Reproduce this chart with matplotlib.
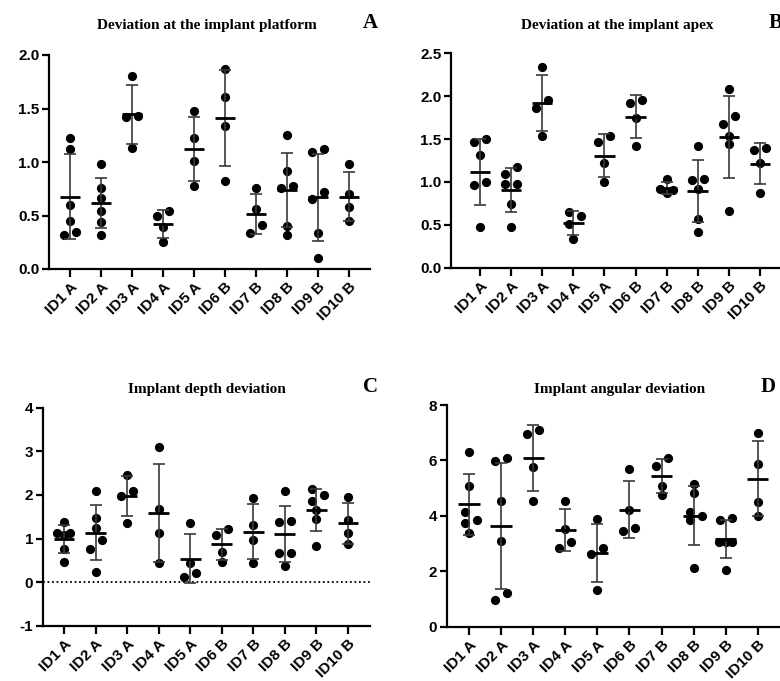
import numpy as np
import matplotlib
matplotlib.use('Agg')
import matplotlib.pyplot as plt

labels = ['ID1 A', 'ID2 A', 'ID3 A', 'ID4 A', 'ID5 A', 'ID6 B', 'ID7 B', 'ID8 B', 'ID9 B', 'ID10 B']

# deviation at the implant platform
platform = [
    [1.22, 1.12, 0.60, 0.45, 0.32, 0.35],
    [0.98, 0.76, 0.66, 0.54, 0.44, 0.32],
    [1.80, 1.43, 1.42, 1.13],
    [0.50, 0.54, 0.39, 0.25],
    [1.48, 1.22, 1.01, 0.78],
    [1.87, 1.61, 1.34, 0.82],
    [0.76, 0.56, 0.41, 0.34],
    [1.25, 0.92, 0.76, 0.78, 0.40, 0.32],
    [1.09, 1.12, 0.65, 0.72, 0.34, 0.10],
    [0.98, 0.70, 0.58, 0.45],
]
# deviation at the implant apex
apex = [
    [1.46, 1.50, 1.31, 1.00, 0.97, 0.48],
    [1.09, 1.17, 0.98, 0.98, 0.74, 0.48],
    [2.34, 1.95, 1.86, 1.54],
    [0.60, 0.65, 0.51, 0.33],
    [1.47, 1.54, 1.22, 1.00],
    [1.92, 1.96, 1.75, 1.42],
    [1.03, 0.87, 0.92, 0.91],
    [1.42, 1.03, 1.02, 0.92, 0.57, 0.42],
    [2.08, 1.77, 1.68, 1.54, 1.44, 0.66],
    [1.37, 1.40, 1.22, 0.87],
]
# implant depth deviation
depth = [
    [1.37, 1.13, 1.12, 1.09, 0.77, 0.47],
    [2.09, 1.46, 1.25, 0.96, 0.77, 0.24],
    [2.45, 2.09, 1.97, 1.35],
    [3.10, 1.67, 1.13, 0.43],
    [1.36, 0.44, 0.12, 0.22],
    [1.09, 1.21, 0.68, 0.47],
    [1.93, 1.32, 0.96, 0.43],
    [2.09, 1.41, 1.37, 0.66, 0.66, 0.38],
    [2.00, 2.13, 1.87, 1.65, 1.44, 0.83],
    [1.96, 1.42, 1.13, 0.87],
]
# implant angular deviation
angular = [
    [6.32, 5.09, 3.85, 4.13, 3.75, 3.37],
    [5.98, 6.08, 4.54, 3.10, 0.96, 1.20],
    [6.96, 7.08, 5.75, 4.54],
    [4.54, 3.53, 2.85, 3.07],
    [3.88, 2.85, 2.61, 1.32],
    [5.68, 4.21, 3.47, 3.55],
    [5.81, 6.08, 5.08, 4.75],
    [5.14, 4.81, 4.15, 3.85, 4.00, 2.11],
    [3.85, 3.94, 3.07, 3.07, 3.07, 2.05],
    [7.00, 5.87, 4.51, 4.00],
]

W, H = 780, 681
serif = ['Liberation Serif', 'DejaVu Serif']
sans = ['Liberation Sans', 'DejaVu Sans']


def swarm(ax, vals, hy=8.3, step=12.0, max_span=13.0):
    # spread points that would overlap: pixel space, returns x offsets in data units
    vals = np.asarray(vals, dtype=float)
    ys = ax.transData.transform(np.column_stack([np.zeros(len(vals)), vals]))[:, 1]
    xunit = ax.transData.transform((1, 0))[0] - ax.transData.transform((0, 0))[0]
    order = np.argsort(ys, kind='stable')
    xs = np.zeros(len(vals))
    done = []
    for i in order:
        near = [j for j in done if abs(ys[i] - ys[j]) < hy]
        cands = [0.0] + [xs[j] + d for j in near for d in (step, -step)]
        cands.sort(key=abs)
        for c in cands:
            if all(abs(c - xs[j]) >= step - 1e-6 for j in near):
                xs[i] = c
                break
        done.append(i)
    # centre every group of points that touch each other, keep it narrow
    group = list(range(len(vals)))
    for i in range(len(vals)):
        for j in range(len(vals)):
            if abs(ys[i] - ys[j]) < hy:
                gi, gj = group[i], group[j]
                group = [gi if g == gj else g for g in group]
    for g in set(group):
        idx = [k for k in range(len(vals)) if group[k] == g]
        if len(idx) > 1:
            xs[idx] -= xs[idx].mean()
            span = xs[idx].max() - xs[idx].min()
            if span > max_span:
                xs[idx] *= max_span / span
    return xs / xunit


def panel(rect_px, xlim, ylim, yticks, fmt, data, title, tx, ty, letter, lx, ly, zero_line=False):
    l, r, t, b = rect_px
    ax = fig.add_axes([l / W, 1 - b / H, (r - l) / W, (b - t) / H])
    ax.set_xlim(*xlim)
    ax.set_ylim(*ylim)
    for s in ['top', 'right']:
        ax.spines[s].set_visible(False)
    for s in ['left', 'bottom']:
        ax.spines[s].set_linewidth(1.6)
    ax.tick_params(width=1.6, length=5, labelsize=11, pad=2)
    ax.tick_params(axis='x', length=6)
    ax.set_yticks(yticks)
    ax.set_yticklabels([fmt.format(v) for v in yticks], fontfamily=sans, fontweight='bold')
    ax.set_xticks(range(len(labels)))
    ax.set_xticklabels(labels, rotation=45, ha='right', va='top', rotation_mode='anchor',
                       fontfamily=sans, fontweight='bold')
    if zero_line:
        ax.axhline(0, color='black', lw=1.3, ls=(0, (1, 1.5)), zorder=1)
    for i, vals in enumerate(data):
        vals = np.array(vals)
        off = swarm(ax, vals)
        ax.scatter(i + off, vals, s=44, color='black', zorder=2, linewidths=0)
        m = vals.mean()
        sd = vals.std(ddof=1)
        ax.errorbar(i, m, yerr=sd, fmt='none', ecolor='#3a3a3a', elinewidth=1.2,
                    capsize=4.5, capthick=1.2, zorder=3)
        ax.hlines(m, i - 0.33, i + 0.33, color='black', lw=2, zorder=4)
    fig.text(tx / W, 1 - ty / H, title, ha='center', va='center', fontfamily=serif,
             fontweight='bold', fontsize=11)
    fig.text(lx / W, 1 - ly / H, letter, ha='center', va='center', fontfamily=serif,
             fontweight='bold', fontsize=15)
    return ax


fig = plt.figure(figsize=(W / 100, H / 100), dpi=100)

panel((49, 370, 55, 269), (-0.68, 9.68), (0, 2.0), [0, 0.5, 1.0, 1.5, 2.0], '{:.1f}',
      platform, 'Deviation at the implant platform', 207, 25, 'A', 370, 23)
panel((451, 781, 53.3, 267.7), (-0.93, 9.675), (0, 2.5), [0, 0.5, 1.0, 1.5, 2.0, 2.5], '{:.1f}',
      apex, 'Deviation at the implant apex', 617, 25, 'B', 776, 23)
panel((43, 370, 407.7, 625.7), (-0.665, 9.7), (-1, 4), [-1, 0, 1, 2, 3, 4], '{:d}',
      depth, 'Implant depth deviation', 207, 390, 'C', 370, 387, zero_line=True)
panel((447, 781, 405, 626.7), (-0.685, 9.72), (0, 8), [0, 2, 4, 6, 8], '{:d}',
      angular, 'Implant angular deviation', 620, 390, 'D', 768, 387)

plt.savefig('out.png', dpi=100)
plt.close()
